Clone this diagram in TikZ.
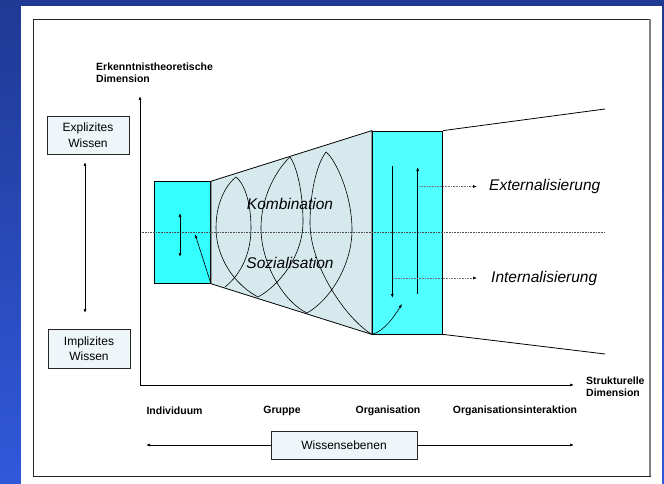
\documentclass[tikz,border=0pt]{standalone}
\usepackage{fontspec}
\setmainfont{Liberation Sans}
\usetikzlibrary{arrows.meta,positioning}
\definecolor{navy}{RGB}{31,58,147}
\definecolor{brightblue}{RGB}{48,88,219}
\definecolor{cyanA}{RGB}{51,255,255}
\definecolor{cyanB}{RGB}{80,255,255}
\definecolor{funnel}{RGB}{214,234,238}
\definecolor{boxfill}{RGB}{238,246,249}
\begin{document}
\begin{tikzpicture}[x=1pt,y=-1pt,
  tip/.style={-{Latex[length=4pt,width=3pt]}},
  twotip/.style={{Latex[length=4pt,width=3pt]}-{Latex[length=4pt,width=3pt]}},
  dottip/.style={densely dotted,black!55,line width=0.6pt,-{Latex[length=4pt,width=3pt,color=black]}},
  wbox/.style={draw=black!85,fill=boxfill,line width=0.9pt,align=center,inner sep=0pt,
    font=\fontsize{12}{15.5}\selectfont},
  dimlabel/.style={font=\bfseries\fontsize{10.5}{12.5}\selectfont,align=left,inner sep=0pt},
  level/.style={font=\bfseries\fontsize{10.5}{12.5}\selectfont,inner sep=0pt},
  mode/.style={font=\itshape\fontsize{15.5}{18}\selectfont,inner sep=0pt},
  block/.style={draw,line width=0.8pt,inner sep=0pt}]
  \useasboundingbox (0,0) rectangle (664,484);
  % frame
  \fill[top color=navy,bottom color=brightblue] (0,0) rectangle (664,484);
  \fill[white] (21,6) rectangle (662,484);
  \draw[black!85,line width=0.9pt] (33,19) rectangle (650,476);
  \draw[black!50,line width=1.8pt] (650,19) -- (650,476);

  % blocks
  \node[block,fill=cyanA,minimum width=56pt,minimum height=101.6pt] (indiv) at (182.5,232.5) {};
  \node[block,fill=cyanB,minimum width=70.4pt,minimum height=203pt] (orga) at (407.5,232.5) {};
  \filldraw[fill=funnel,line width=0.8pt] (indiv.north east) -- (orga.north west)
    -- (orga.south west) -- (indiv.south east) -- cycle;
  \draw[line width=0.8pt] (orga.north east) -- (605,109);
  \draw[line width=0.8pt] (orga.south east) -- (605,354);
  \draw[densely dotted,black!70,line width=0.6pt] (140,232.5) -- (605,232.5);

  % axes
  \coordinate (origin) at (140,385);
  \draw[tip,line width=0.7pt] (origin) -- (140,96);
  \draw[tip,line width=0.7pt] (origin) -- (574,385);
  \node[dimlabel,anchor=west] (epist) at (96,72.5) {Erkenntnistheoretische\\Dimension};
  \node[dimlabel,anchor=west] (struct) at (586,386.5) {Strukturelle\\Dimension};

  % spiral
  \coordinate (b0) at (225,287);
  \coordinate (b1) at (258,297);
  \coordinate (b2) at (307,313);
  \coordinate (b3) at (orga.south west);
  \draw[line width=0.6pt] (b0) .. controls (240,275) and (251,255) .. (251,228)
    .. controls (251,200) and (243,182) .. (236,177)
    .. controls (228,183) and (216,200) .. (216,228)
    .. controls (216,258) and (235,285) .. (b1)
    .. controls (280,285) and (303,255) .. (303,222)
    .. controls (303,190) and (296,165) .. (290,157)
    .. controls (278,168) and (261,195) .. (261,228)
    .. controls (261,265) and (285,303) .. (b2)
    .. controls (330,300) and (352,265) .. (352,230)
    .. controls (352,195) and (336,160) .. (326,152)
    .. controls (316,165) and (310,195) .. (310,223)
    .. controls (310,265) and (345,318) .. (b3);
  \draw[tip,line width=0.6pt] (b3) .. controls (385,331) and (395,315) .. (402,304);
  \draw[tip,line width=0.6pt] (indiv.south east) -- (195,234);
  \node[mode] (kombi) at (290,204) {Kombination};
  \node[mode] (sozi) at (290,263) {Sozialisation};

  % arrows inside blocks
  \draw[twotip,line width=0.7pt] (180,213) -- (180,257);
  \draw[tip,line width=0.7pt] (392.3,166) -- (392.3,298);
  \draw[tip,line width=0.7pt] (417.7,294) -- (417.7,167);
  \node[mode,anchor=west] (ext) at (489,186) {Externalisierung};
  \node[mode,anchor=west] (int) at (491,278) {Internalisierung};
  \draw[dottip] (419,186.5) -- (477,186.5);
  \draw[dottip] (393,278) -- (477,278);

  % knowledge boxes
  \node[wbox,minimum width=82pt,minimum height=38pt] (expl) at (88,135) {Explizites\\Wissen};
  \node[wbox,minimum width=82pt,minimum height=39pt] (impl) at (89,348.5) {Implizites\\Wissen};
  \draw[twotip,line width=0.7pt] (85,162) -- (85,313);

  % levels
  \node[level] (ind) at (174.5,411) {Individuum};
  \node[level] (grp) at (282,411) {Gruppe};
  \node[level] (org) at (388,411) {Organisation};
  \node[level] (orgint) at (515,411) {Organisationsinteraktion};
  \node[wbox,minimum width=146pt,minimum height=28pt] (wiss) at (344,445) {Wissensebenen};
  \draw[tip,line width=0.7pt] (wiss.west) -- (146,445);
  \draw[tip,line width=0.7pt] (wiss.east) -- (574,445);
\end{tikzpicture}
\end{document}
